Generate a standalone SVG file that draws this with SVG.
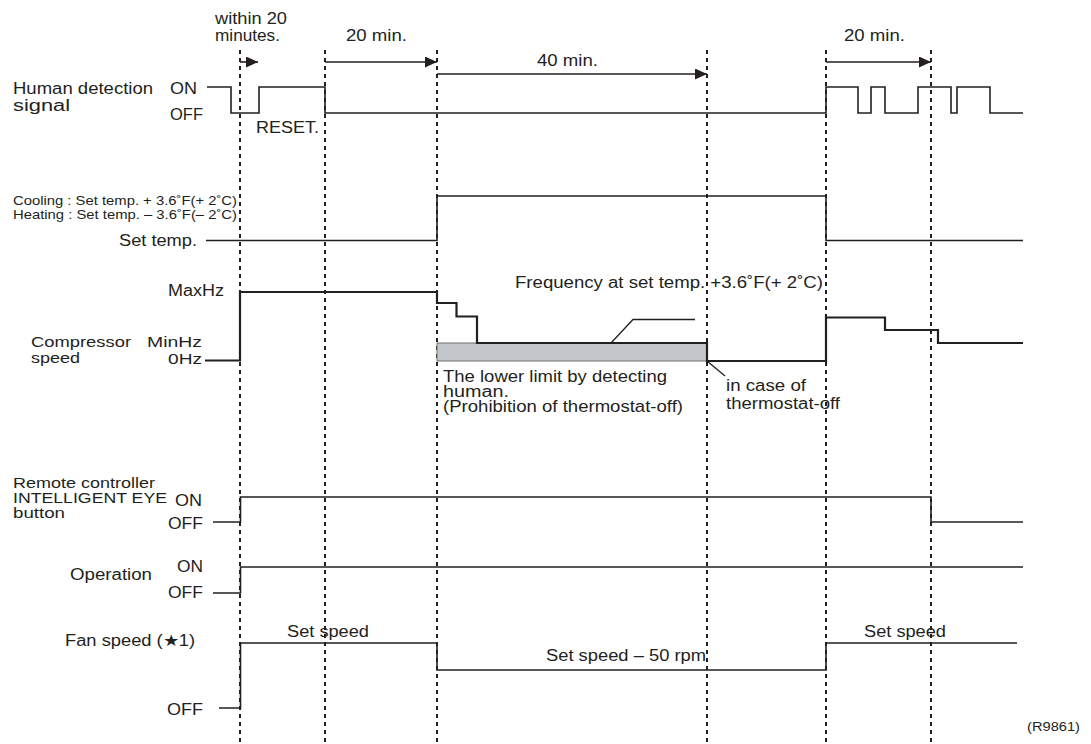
<svg xmlns="http://www.w3.org/2000/svg" width="1091" height="744" viewBox="0 0 1091 744">
<style>
text{font-family:"Liberation Sans",Arial,sans-serif;font-size:16px;fill:#231f20}
.md{font-size:15px}
.sm{font-size:13.5px}
.xs{font-size:12px}
.sig{fill:none;stroke:#231f20;stroke-width:1.6}
.cmp{fill:none;stroke:#231f20;stroke-width:2.2}
.dash{stroke:#231f20;stroke-width:2;stroke-dasharray:4 4}
.arr{stroke:#231f20;stroke-width:1.6;fill:none}
.lead{stroke:#231f20;stroke-width:1.3;fill:none}
</style>
<defs>
<marker id="ah" markerUnits="userSpaceOnUse" markerWidth="12" markerHeight="11" refX="12" refY="5.5" orient="auto">
<path d="M0,0 L12,5.5 L0,11 z" fill="#231f20"/>
</marker>
</defs>
<rect width="1091" height="744" fill="#fff"/>
<g id="gridlines">
<line class="dash" x1="240" y1="50" x2="240" y2="744"/>
<line class="dash" x1="325" y1="50" x2="325" y2="744"/>
<line class="dash" x1="437" y1="50" x2="437" y2="744"/>
<line class="dash" x1="707" y1="50" x2="707" y2="744"/>
<line class="dash" x1="826" y1="50" x2="826" y2="744"/>
<line class="dash" x1="931" y1="50" x2="931" y2="744"/>
</g>
<g id="timing-labels">
<text x="215" y="24" textLength="72" lengthAdjust="spacingAndGlyphs">within 20</text>
<text x="215" y="41" textLength="65" lengthAdjust="spacingAndGlyphs">minutes.</text>
<text x="346" y="41" textLength="61" lengthAdjust="spacingAndGlyphs">20 min.</text>
<text x="537" y="66" textLength="61" lengthAdjust="spacingAndGlyphs">40 min.</text>
<text x="844" y="41" textLength="61" lengthAdjust="spacingAndGlyphs">20 min.</text>
</g>
<g id="human-detection">
<text x="13" y="94" textLength="140" lengthAdjust="spacingAndGlyphs">Human detection</text>
<text x="13" y="111" textLength="57" lengthAdjust="spacingAndGlyphs">signal</text>
<text x="170" y="94" textLength="27" lengthAdjust="spacingAndGlyphs">ON</text>
<text x="170" y="120" textLength="33" lengthAdjust="spacingAndGlyphs">OFF</text>
<text x="256" y="133" textLength="63" lengthAdjust="spacingAndGlyphs">RESET.</text>
<polyline class="sig" points="207,87 231,87 231,113 259,113 259,87 325,87 325,113 826,113 826,87 858,87 858,113 871,113 871,87 885,87 885,113 918,113 918,87 951,87 951,113 957,113 957,87 990,87 990,113 1023,113"/>
</g>
<g id="set-temp">
<text class="sm" x="13" y="205" textLength="224" lengthAdjust="spacingAndGlyphs">Cooling : Set temp. + 3.6˚F(+ 2˚C)</text>
<text class="sm" x="13" y="218.5" textLength="224" lengthAdjust="spacingAndGlyphs">Heating : Set temp. – 3.6˚F(– 2˚C)</text>
<text x="119" y="246" textLength="78" lengthAdjust="spacingAndGlyphs">Set temp.</text>
<polyline class="sig" points="206,240.5 437,240.5 437,196 826,196 826,240.5 1023,240.5"/>
</g>
<g id="compressor-speed">
<text x="168" y="296" textLength="56" lengthAdjust="spacingAndGlyphs">MaxHz</text>
<text class="md" x="31" y="347" textLength="100" lengthAdjust="spacingAndGlyphs">Compressor</text>
<text class="md" x="31" y="363" textLength="49" lengthAdjust="spacingAndGlyphs">speed</text>
<text class="md" x="147" y="347" textLength="55" lengthAdjust="spacingAndGlyphs">MinHz</text>
<text class="md" x="168" y="364" textLength="34" lengthAdjust="spacingAndGlyphs">0Hz</text>
<rect x="437" y="343" width="270" height="18" fill="#c3c6ca" stroke="#6d6e71" stroke-width="1"/>
<polyline class="cmp" points="205,360.5 240,360.5 240,292 437,292 437,303 456.5,303 456.5,316.5 477,316.5 477,343 707,343 707,361 826,361 826,317.5 885,317.5 885,330 938,330 938,343 1023,343"/>
<text x="515" y="288" textLength="308" lengthAdjust="spacingAndGlyphs">Frequency at set temp. +3.6˚F(+ 2˚C)</text>
<text x="443" y="382" textLength="224" lengthAdjust="spacingAndGlyphs">The lower limit by detecting</text>
<text x="443" y="397" textLength="66" lengthAdjust="spacingAndGlyphs">human.</text>
<text x="443" y="412" textLength="240" lengthAdjust="spacingAndGlyphs">(Prohibition of thermostat-off)</text>
<text x="726" y="391" textLength="80" lengthAdjust="spacingAndGlyphs">in case of</text>
<text x="726" y="409" textLength="114" lengthAdjust="spacingAndGlyphs">thermostat-off</text>
</g>
<g id="remote-controller">
<text class="md" x="13" y="488" textLength="142" lengthAdjust="spacingAndGlyphs">Remote controller</text>
<text class="md" x="13" y="503" textLength="154" lengthAdjust="spacingAndGlyphs">INTELLIGENT EYE</text>
<text class="md" x="13" y="518" textLength="52" lengthAdjust="spacingAndGlyphs">button</text>
<text x="175" y="506" textLength="27" lengthAdjust="spacingAndGlyphs">ON</text>
<text x="168" y="529" textLength="35" lengthAdjust="spacingAndGlyphs">OFF</text>
<polyline class="sig" points="213,522 240.5,522 240.5,497 931,497 931,522 1023,522"/>
</g>
<g id="operation">
<text x="70" y="580" textLength="82" lengthAdjust="spacingAndGlyphs">Operation</text>
<text x="177" y="572" textLength="26" lengthAdjust="spacingAndGlyphs">ON</text>
<text x="168" y="598" textLength="35" lengthAdjust="spacingAndGlyphs">OFF</text>
<polyline class="sig" points="213,593 240.5,593 240.5,567 1023,567"/>
</g>
<g id="fan-speed">
<text x="65" y="646" textLength="130" lengthAdjust="spacingAndGlyphs">Fan speed (★1)</text>
<text x="287" y="637" textLength="82" lengthAdjust="spacingAndGlyphs">Set speed</text>
<text x="546" y="661" textLength="160" lengthAdjust="spacingAndGlyphs">Set speed – 50 rpm</text>
<text x="864" y="637" textLength="82" lengthAdjust="spacingAndGlyphs">Set speed</text>
<text x="167" y="715" textLength="36" lengthAdjust="spacingAndGlyphs">OFF</text>
<polyline class="sig" points="219,708 240.5,708 240.5,643 437,643 437,670 826,670 826,643 1017,643"/>
</g>
<g id="connectors">
<line class="arr" x1="240" y1="62" x2="258" y2="62" marker-end="url(#ah)"/>
<line class="arr" x1="325" y1="62" x2="437" y2="62" marker-end="url(#ah)"/>
<line class="arr" x1="437" y1="74" x2="707" y2="74" marker-end="url(#ah)"/>
<line class="arr" x1="826" y1="62" x2="931" y2="62" marker-end="url(#ah)"/>
<polyline class="lead" points="611,343 633,319.5 695,319.5"/>
<line class="lead" x1="707" y1="361" x2="725" y2="376"/>
</g>
<text class="xs" x="1027" y="731" textLength="53" lengthAdjust="spacingAndGlyphs">(R9861)</text>
</svg>
